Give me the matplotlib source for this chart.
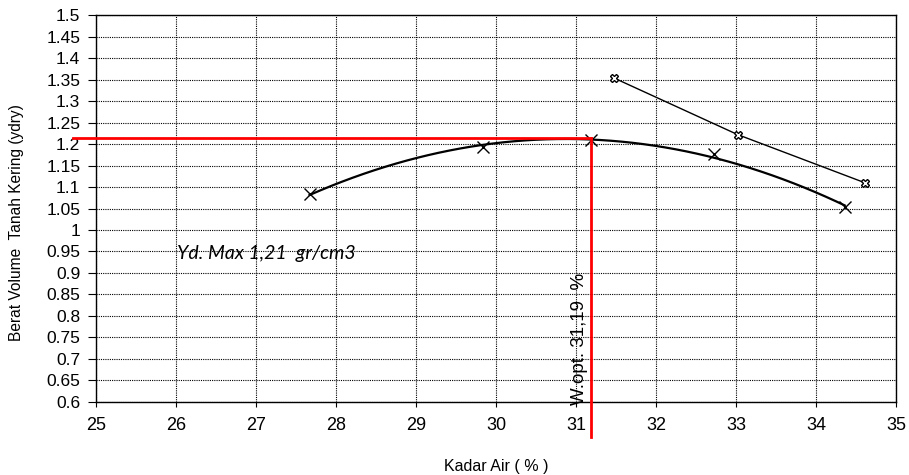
import numpy as np
import matplotlib.pyplot as plt
from matplotlib.ticker import MultipleLocator

# compaction test points (kadar air %, berat volume kering)
water = [27.67, 29.84, 31.19, 32.73, 34.36]
dry_density = [1.084, 1.192, 1.209, 1.177, 1.053]

# zero air void line points
zav_water = [31.47, 33.02, 34.61]
zav_density = [1.354, 1.222, 1.11]

w_opt = 31.19
yd_max = 1.21
yticks = np.round(np.arange(0.6, 1.501, 0.05), 2)

fig = plt.figure(figsize=(9.09, 4.75), dpi=100)
ax = fig.add_axes([0.1056, 0.1537, 0.880, 0.8147])

# polynomial trendline through the test points
coef = np.polyfit(water, dry_density, 2)
xfit = np.linspace(min(water), max(water), 200)
ax.plot(xfit, np.polyval(coef, xfit), color='black', lw=1.6, zorder=3)
ax.plot(water, dry_density, 'x', color='black', ms=8, mew=1.0, zorder=4)

ax.plot(zav_water, zav_density, color='black', lw=1.0, marker='X', ms=6,
        mfc='white', mec='black', mew=1.0, zorder=4)

# optimum lines
ax.plot([24.71, w_opt], [yd_max + 0.005, yd_max + 0.005], color='red', lw=2,
        clip_on=False, zorder=5)
ax.plot([w_opt, w_opt], [yd_max + 0.005, 0.519], color='red', lw=2,
        clip_on=False, zorder=5)

ax.text(26.01, 0.946, 'Yd. Max 1,21  gr/cm3', style='italic', fontsize=14,
        family=['Lato', 'DejaVu Sans'], va='center', ha='left')
ax.text(31.05, 0.593, 'W.opt. 31,19  %', rotation=90, fontsize=13.5,
        family=['Liberation Sans', 'DejaVu Sans'], ha='center', va='bottom')

ax.set_xlim(25, 35)
ax.set_ylim(0.6, 1.5)
ax.xaxis.set_major_locator(MultipleLocator(1))
ax.set_yticks(yticks)
ax.set_yticklabels(['%g' % v for v in yticks])
ax.grid(True, color='black', ls=(0, (1, 1)), lw=0.8)
ax.set_axisbelow(True)

for lab in ax.get_yticklabels():
    lab.set_family(['Liberation Sans', 'DejaVu Sans'])
    lab.set_fontsize(12.5)
for lab in ax.get_xticklabels():
    lab.set_family(['Liberation Sans', 'DejaVu Sans'])
    lab.set_fontsize(13)
ax.tick_params(axis='y', direction='out', length=5.8, width=0.8, pad=5.5)
ax.tick_params(axis='x', direction='out', length=3.6, width=0.8, pad=7.5)

ax.set_xlabel('Kadar Air ( % )', fontsize=11.5,
              family=['Liberation Sans', 'DejaVu Sans'], labelpad=18)
ax.set_ylabel('Berat Volume  Tanah Kering (ydry)', fontsize=11.2,
              family=['Liberation Sans', 'DejaVu Sans'])
ax.yaxis.set_label_coords(-0.09, 0.4625)

for s in ax.spines.values():
    s.set_linewidth(1.0)
    s.set_color('black')

fig.savefig('out.png', dpi=100)
